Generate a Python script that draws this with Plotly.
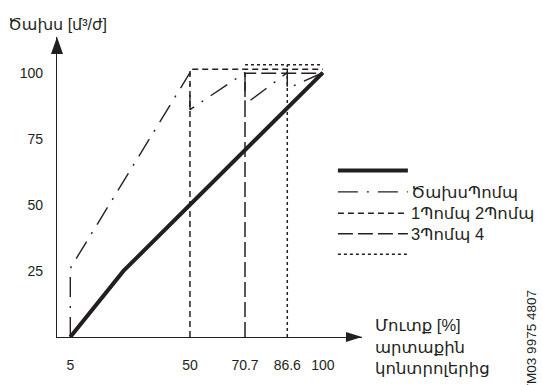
import plotly.graph_objects as go

# ---------------- data ----------------
x_ticks = [5, 50, 70.7, 86.6, 100]
x_ticktext = ["5", "50", "70.7", "86.6", "100"]
y_ticks = [25, 50, 75, 100]
y_ticktext = ["25", "50", "75", "100"]

# system flow (thick solid)
flow_x = [5, 25, 100]
flow_y = [0, 25, 100]

# flow pump (dash-dot)
flowpump_x = [5, 5, 50, 50, 70.7, 70.7, 86.6, 86.6, 100]
flowpump_y = [0, 26, 100, 86, 100, 88, 100, 94, 100]

# 1 pump 2 pump (short dash)
p12_x = [50, 50, 100]
p12_y = [0, 101.3, 101.3]

# 3 pump 4 (long dash)
p34_x = [70.7, 70.7, 100]
p34_y = [0, 99.8, 99.8]

# dotted
pdot_x = [86.6, 86.6, None, 70.7, 100]
pdot_y = [0, 103, None, 103, 103]

legend_names = ["", "ԾախսՊոմպ", "1Պոմպ 2Պոմպ", "3Պոմպ 4", ""]

y_title = "Ծախս [մ³/ժ]"
x_title_lines = ["Մուտք [%]", "արտաքին", "կոնտրոլերից"]
code_text = "TM03 9975 4807"

# ---------------- styles ----------------
INK = "#231f20"
FONT = "Liberation Sans, Arial, DejaVu Sans, sans-serif"
W, H = 543, 385
L, T, B = 57, 37, 40
XMAX, YMAX = 114.7, 113.5
pw = XMAX * 2.66
ph = H - T - B
R = W - L - pw

def pxx(p):
    return (p - L) / pw

def pxy(p):
    return (H - B - p) / ph

DASHDOT = "20px,9px,2px,9px"
SHORT = "6px,4px"
LONG = "15px,5px"
DOT = "3px,3px"

fig = go.Figure()
series = [
    (flowpump_x, flowpump_y, DASHDOT, 1.4),
    (p12_x, p12_y, SHORT, 1.5),
    (p34_x, p34_y, LONG, 1.5),
    (pdot_x, pdot_y, DOT, 1.5),
    (flow_x, flow_y, "solid", 4),
]
for xs, ys, dash, w in series:
    fig.add_trace(go.Scatter(x=xs, y=ys, mode="lines",
                             line=dict(color=INK, width=w, dash=dash),
                             hoverinfo="skip", showlegend=False, cliponaxis=False))

shapes = []
annotations = []

# axis arrowheads (pixel-sized, anchored in paper coords)
shapes.append(dict(type="path", xref="paper", yref="paper", xsizemode="pixel", ysizemode="pixel",
                   xanchor=0, yanchor=1, path="M-6,-17L0,0L6,-17Z",
                   fillcolor=INK, line=dict(color=INK, width=0)))
shapes.append(dict(type="path", xref="paper", yref="paper", xsizemode="pixel", ysizemode="pixel",
                   xanchor=1, yanchor=0, path="M-16,-5L0,0L-16,5Z",
                   fillcolor=INK, line=dict(color=INK, width=0)))

# legend
leg_rows = [174, 196, 218, 239, 260]
leg_styles = [("solid", 4), (DASHDOT, 1.4), (SHORT, 1.5), (LONG, 1.5), (DOT, 1.5)]
for yrow, (dash, w), name in zip(leg_rows, leg_styles, legend_names):
    shapes.append(dict(type="line", xref="paper", yref="paper",
                       x0=pxx(338), x1=pxx(408), y0=pxy(yrow), y1=pxy(yrow),
                       line=dict(color=INK, width=w, dash=dash)))
    if name:
        annotations.append(dict(text=name, xref="paper", yref="paper", x=pxx(409), y=pxy(yrow),
                                xanchor="left", yanchor="middle", showarrow=False,
                                font=dict(family=FONT, size=16.5, color=INK)))

# titles
annotations.append(dict(text=y_title, xref="paper", yref="paper", x=pxx(6), y=pxy(24),
                        xanchor="left", yanchor="middle", showarrow=False,
                        font=dict(family=FONT, size=16, color=INK)))
for txt, yc in zip(x_title_lines, [333, 355, 377]):
    annotations.append(dict(text=txt, xref="paper", yref="paper", x=pxx(373), y=pxy(yc),
                            xanchor="left", yanchor="middle", showarrow=False,
                            font=dict(family=FONT, size=16.5, color=INK)))
annotations.append(dict(text=code_text, xref="paper", yref="paper", x=pxx(531), y=pxy(295),
                        xanchor="center", yanchor="top", textangle=-90, showarrow=False,
                        font=dict(family=FONT, size=13.5, color=INK)))

fig.update_layout(
    width=W, height=H,
    margin=dict(l=L, r=R, t=T, b=B, pad=0),
    paper_bgcolor="white", plot_bgcolor="white",
    showlegend=False,
    shapes=shapes, annotations=annotations,
    xaxis=dict(range=[0, XMAX], tickvals=x_ticks, ticktext=x_ticktext, showgrid=False,
               zeroline=False, showline=True, linecolor=INK, linewidth=1.3, ticks="",
               ticklabelstandoff=15, tickfont=dict(family=FONT, size=14, color=INK), fixedrange=True),
    yaxis=dict(range=[0, YMAX], tickvals=y_ticks, ticktext=y_ticktext, showgrid=False,
               zeroline=False, showline=True, linecolor=INK, linewidth=1.3, ticks="",
               ticklabelstandoff=10, tickfont=dict(family=FONT, size=14, color=INK), fixedrange=True),
)

fig.write_html("out.html", config={"displayModeBar": False},
               post_script="document.body.style.margin='0';document.body.style.overflow='hidden';")
